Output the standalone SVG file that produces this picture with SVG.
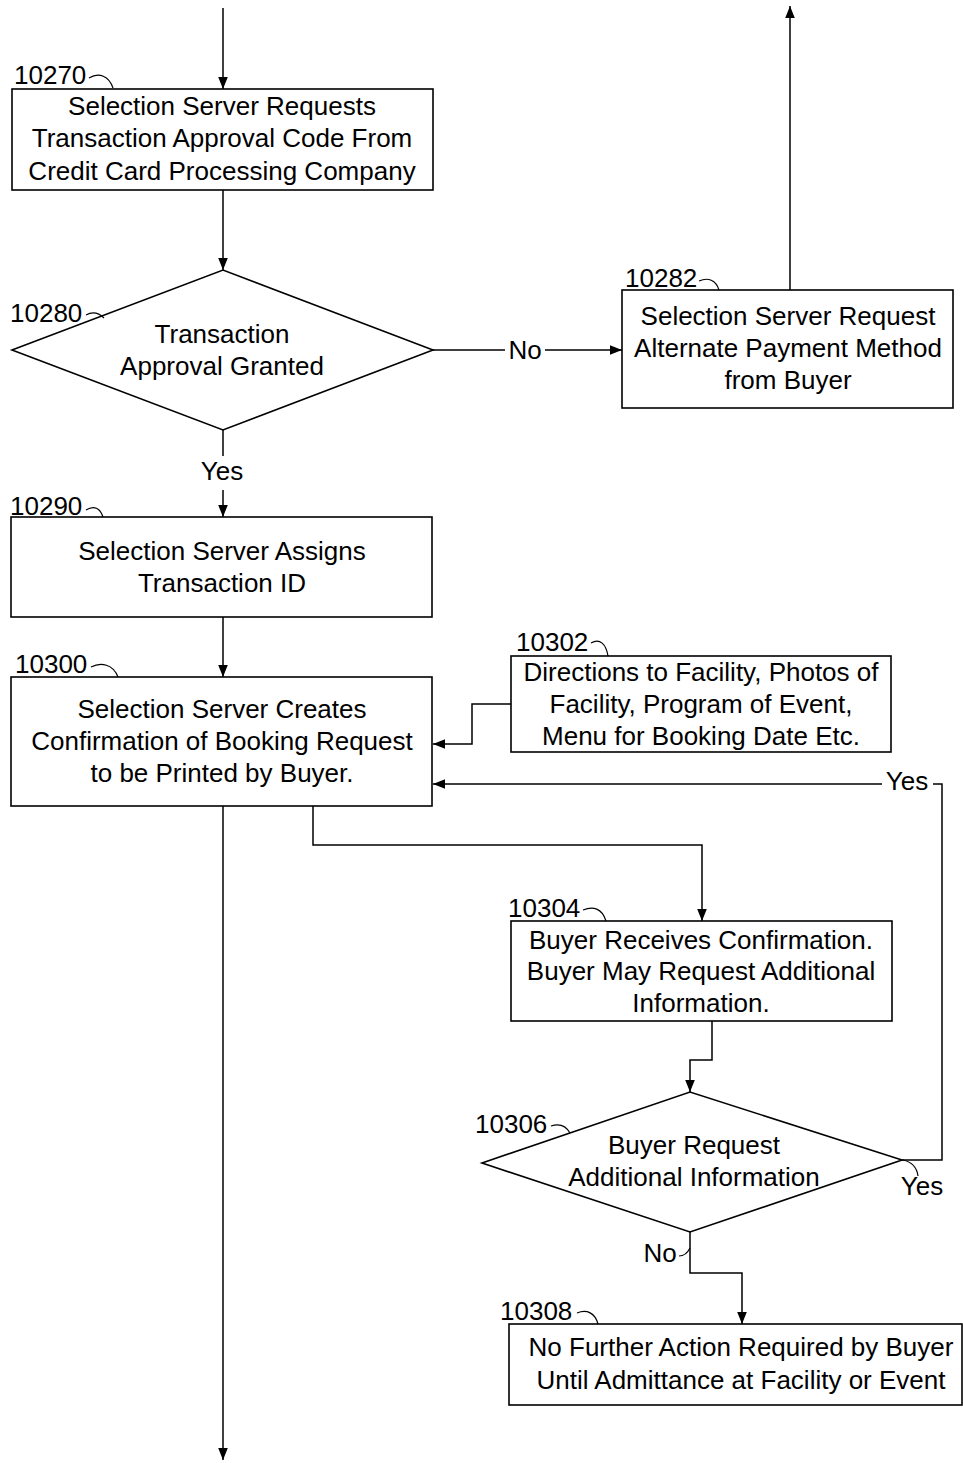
<svg xmlns="http://www.w3.org/2000/svg" width="963" height="1463" viewBox="0 0 963 1463">
<defs>
<style>
.box{fill:#fff;stroke:#000;stroke-width:1.6}
.ln{fill:none;stroke:#000;stroke-width:1.5}
.cl{fill:none;stroke:#000;stroke-width:1.2}
.t{font-family:"Liberation Sans",Arial,sans-serif;font-size:26px;fill:#000;text-anchor:middle}
.lb{font-family:"Liberation Sans",Arial,sans-serif;font-size:26px;fill:#000}
</style>
<marker id="ah" viewBox="0 0 10 10" refX="10" refY="5" markerWidth="12" markerHeight="12" markerUnits="userSpaceOnUse" orient="auto">
<path d="M0,1 L10,5 L0,9 z" fill="#000"/>
</marker>
</defs>
<rect width="963" height="1463" fill="#fff"/>

<g id="connectors">
<path class="ln" d="M223,8 V89" marker-end="url(#ah)"/>
<path class="ln" d="M223,190 V270" marker-end="url(#ah)"/>
<path class="ln" d="M433,350 H505"/>
<text class="t" x="525" y="359">No</text>
<path class="ln" d="M545,350 H622" marker-end="url(#ah)"/>
<path class="ln" d="M790,290 V6" marker-end="url(#ah)"/>
<path class="ln" d="M223,430 V456"/>
<text class="t" x="222" y="480">Yes</text>
<path class="ln" d="M223,490 V517" marker-end="url(#ah)"/>
<path class="ln" d="M223,617 V677" marker-end="url(#ah)"/>
<path class="ln" d="M511,704 H472 V744 H433" marker-end="url(#ah)"/>
<path class="ln" d="M902,1160 H942 V784 H933"/>
<text class="t" x="907" y="790">Yes</text>
<path class="ln" d="M882,784 H433" marker-end="url(#ah)"/>
<path class="ln" d="M313,806 V845 H702 V921" marker-end="url(#ah)"/>
<path class="ln" d="M712,1021 V1060 H690 V1092" marker-end="url(#ah)"/>
<path class="cl" d="M903,1160 C912,1162 917,1168 918,1176"/>
<text class="t" x="922" y="1195">Yes</text>
<path class="ln" d="M690,1232 V1273 H742 V1324" marker-end="url(#ah)"/>
<text class="t" x="660" y="1262">No</text>
<path class="cl" d="M679,1256 C684,1256 688,1252 690,1248"/>
<path class="ln" d="M223,806 V1460" marker-end="url(#ah)"/>
</g>

<g id="n10270">
<rect class="box" x="12" y="89" width="421" height="101"/>
<text class="lb" x="14" y="84">10270</text>
<path class="cl" d="M89,78 C99,72 109,76 113,88"/>
<text class="t" x="222" y="115">Selection Server Requests</text>
<text class="t" x="222" y="147">Transaction Approval Code From</text>
<text class="t" x="222" y="180">Credit Card Processing Company</text>
</g>

<g id="n10280">
<polygon class="box" points="12,350 223,270 433,350 223,430"/>
<text class="lb" x="10" y="322">10280</text>
<path class="cl" d="M86,315 C93,311 99,313 104,318"/>
<text class="t" x="222" y="343">Transaction</text>
<text class="t" x="222" y="375">Approval Granted</text>
</g>

<g id="n10282">
<rect class="box" x="622" y="290" width="331" height="118"/>
<text class="lb" x="625" y="287">10282</text>
<path class="cl" d="M699,281 C708,277 716,280 719,290"/>
<text class="t" x="788" y="325">Selection Server Request</text>
<text class="t" x="788" y="357">Alternate Payment Method</text>
<text class="t" x="788" y="389">from Buyer</text>
</g>

<g id="n10290">
<rect class="box" x="11" y="517" width="421" height="100"/>
<text class="lb" x="10" y="515">10290</text>
<path class="cl" d="M86,510 C94,505 100,508 103,517"/>
<text class="t" x="222" y="560">Selection Server Assigns</text>
<text class="t" x="222" y="592">Transaction ID</text>
</g>

<g id="n10300">
<rect class="box" x="11" y="677" width="421" height="129"/>
<text class="lb" x="15" y="673">10300</text>
<path class="cl" d="M91,667 C101,662 113,664 118,677"/>
<text class="t" x="222" y="718">Selection Server Creates</text>
<text class="t" x="222" y="750">Confirmation of Booking Request</text>
<text class="t" x="222" y="782">to be Printed by Buyer.</text>
</g>

<g id="n10302">
<rect class="box" x="511" y="656" width="380" height="96"/>
<text class="lb" x="516" y="651">10302</text>
<path class="cl" d="M591,643 C600,638 606,644 608,656"/>
<text class="t" x="701" y="681">Directions to Facility, Photos of</text>
<text class="t" x="701" y="713">Facility, Program of Event,</text>
<text class="t" x="701" y="745">Menu for Booking Date Etc.</text>
</g>

<g id="n10304">
<rect class="box" x="511" y="921" width="381" height="100"/>
<text class="lb" x="508" y="917">10304</text>
<path class="cl" d="M583,910 C593,906 602,908 606,921"/>
<text class="t" x="701" y="949">Buyer Receives Confirmation.</text>
<text class="t" x="701" y="980">Buyer May Request Additional</text>
<text class="t" x="701" y="1012">Information.</text>
</g>

<g id="n10306">
<polygon class="box" points="482,1163 690,1092 902,1160 690,1232"/>
<text class="lb" x="475" y="1133">10306</text>
<path class="cl" d="M551,1126 C560,1123 566,1126 570,1133"/>
<text class="t" x="694" y="1154">Buyer Request</text>
<text class="t" x="694" y="1186">Additional Information</text>
</g>

<g id="n10308">
<rect class="box" x="509" y="1324" width="453" height="81"/>
<text class="lb" x="500" y="1320">10308</text>
<path class="cl" d="M577,1313 C587,1309 595,1313 598,1324"/>
<text class="t" x="741" y="1356">No Further Action Required by Buyer</text>
<text class="t" x="741" y="1389">Until Admittance at Facility or Event</text>
</g>
</svg>
